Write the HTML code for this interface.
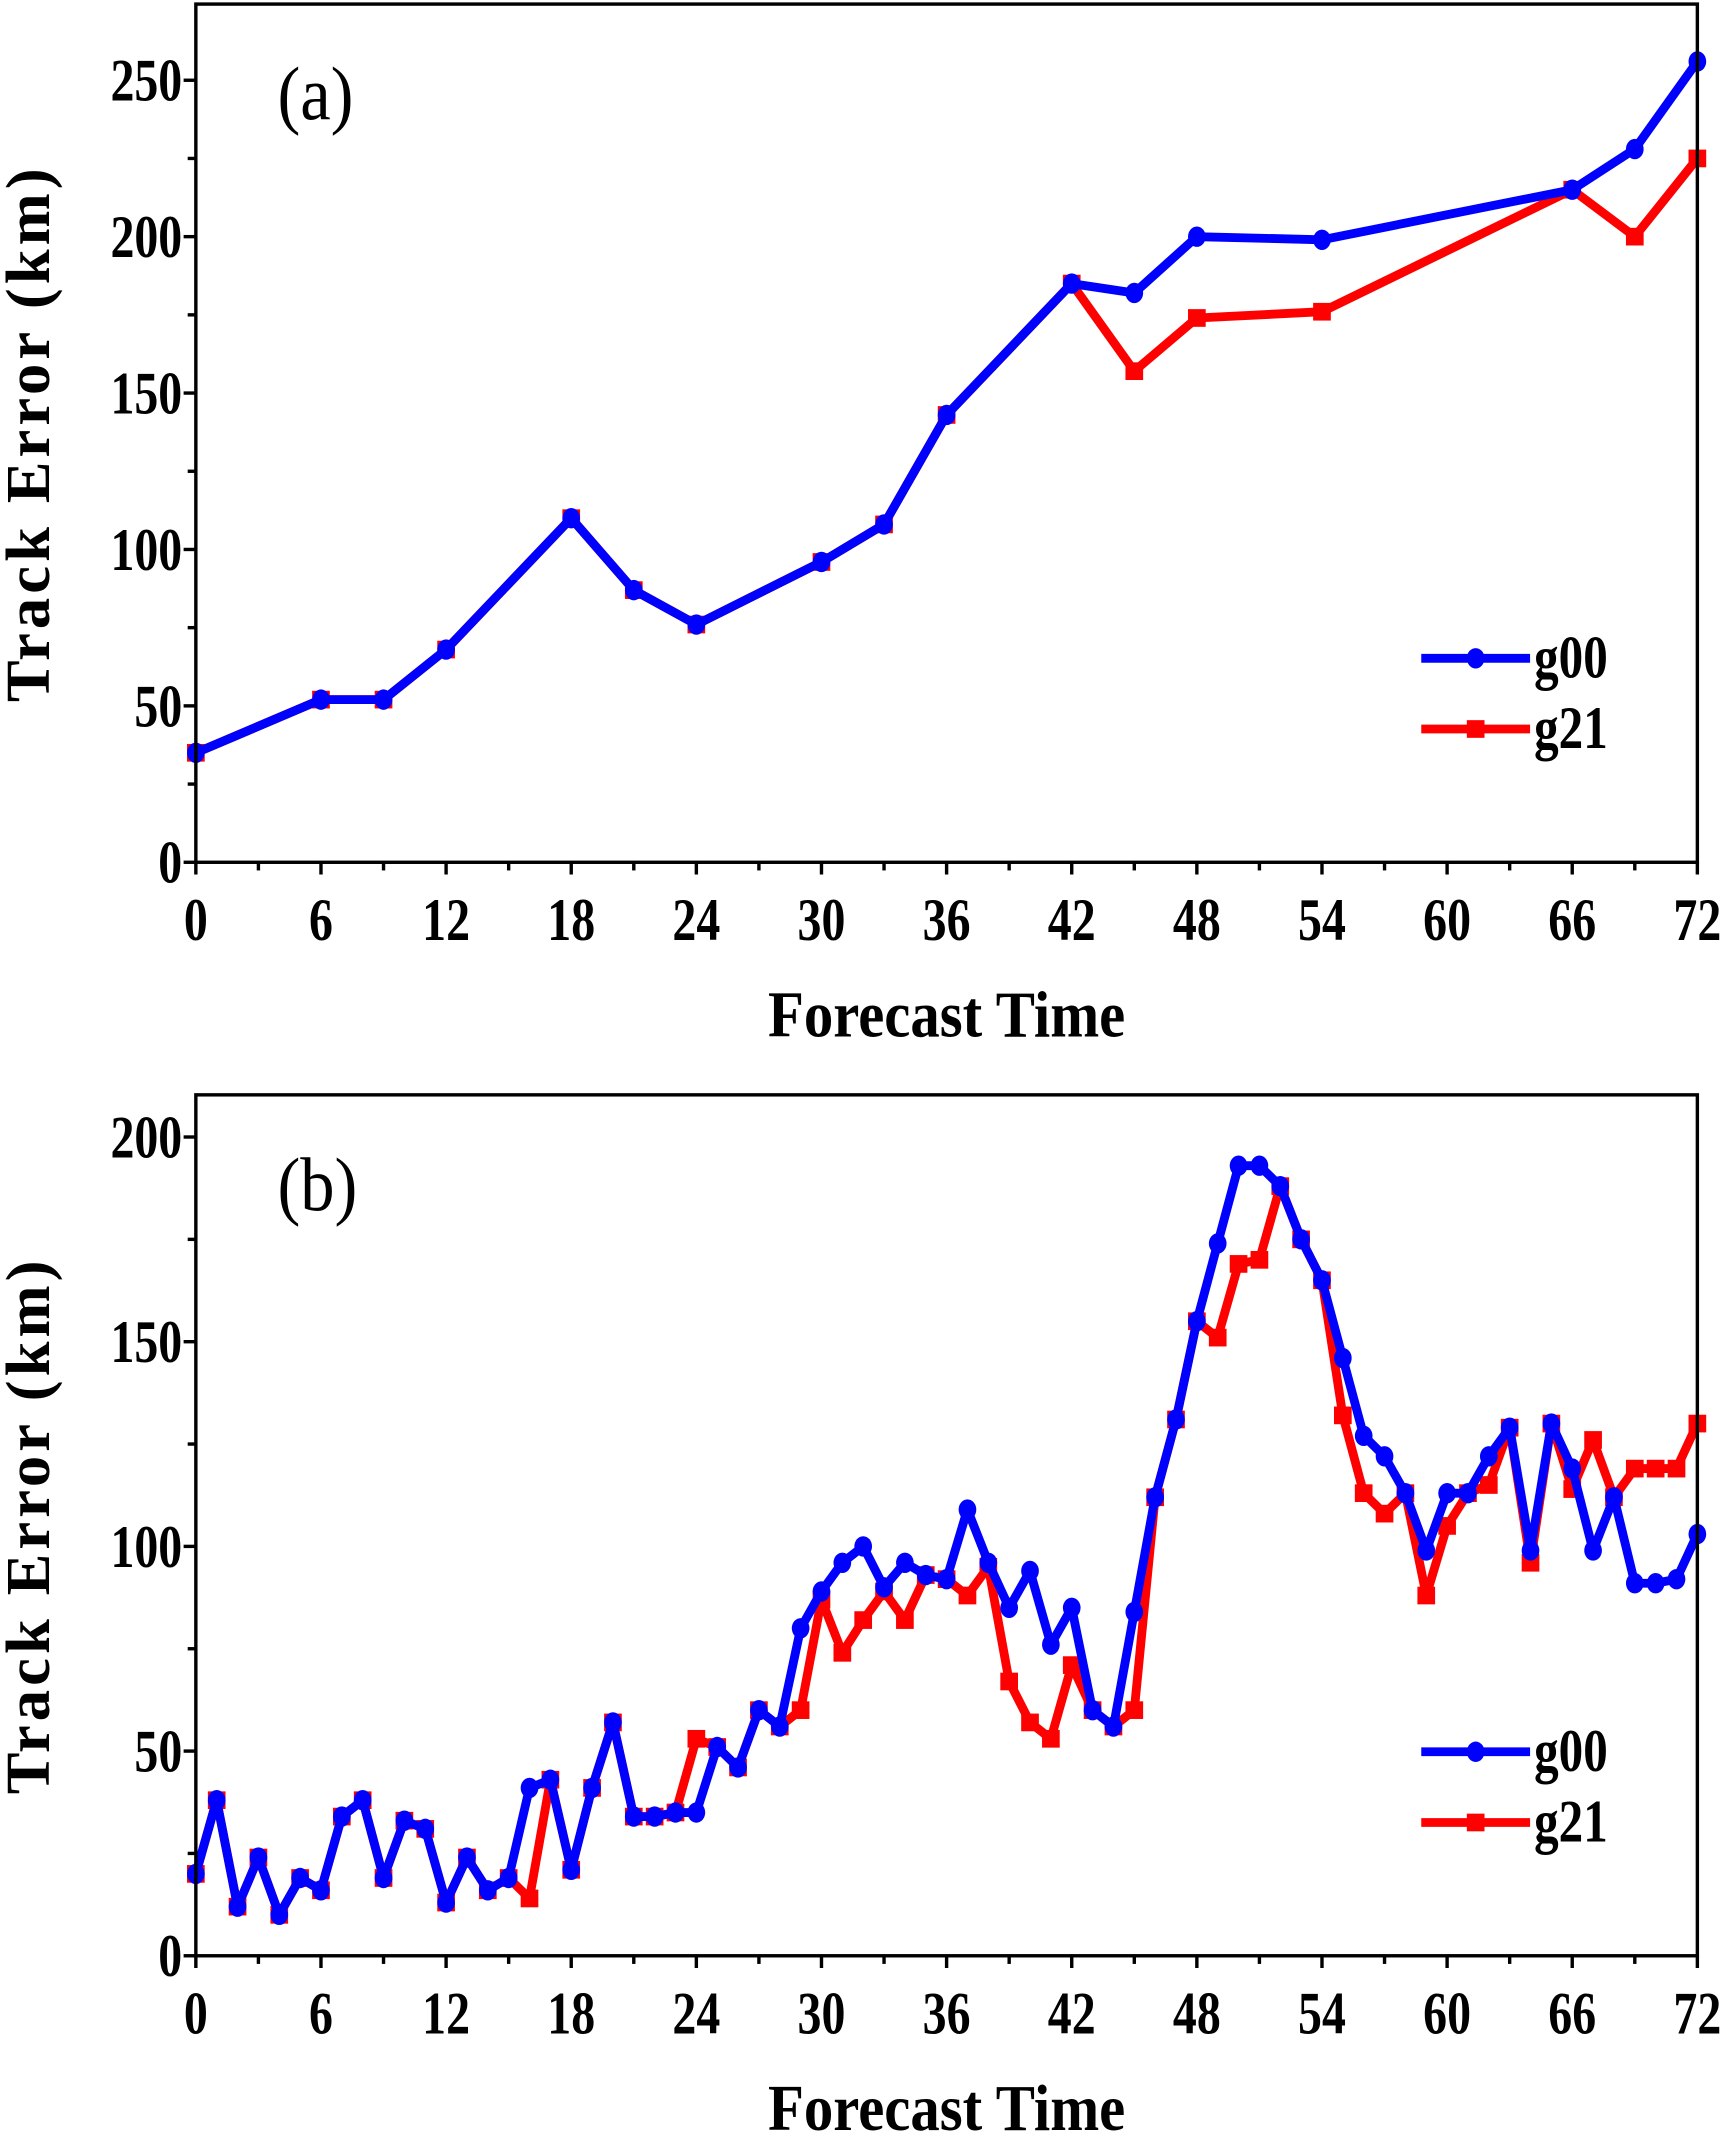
<!DOCTYPE html>
<html><head><meta charset="utf-8"><style>
html,body{margin:0;padding:0;background:#fff;}
svg{display:block;}
text{font-family:"Liberation Serif",serif;}
</style></head><body>
<svg id="s" width="1730" height="2135" viewBox="0 0 1272 1569.78" xmlns="http://www.w3.org/2000/svg"></svg>
<script>
const s=document.getElementById('s');let h='';
function X(t){return 144+t*1104/72;}
function panel(top,bot,ymax,ystep,ymin,label,g00,g21,x0,titleY){
  const Y=v=>bot-v*(bot-ymin)/ymax;
  const pts=d=>d.map(p=>X(p[0]).toFixed(1)+','+Y(p[1]).toFixed(1)).join(' ');
  h+=`<polyline points="${pts(g21)}" fill="none" stroke="#f00" stroke-width="6.5" stroke-linejoin="round"/>`;
  g21.forEach(p=>h+=`<rect x="${X(p[0])-6.5}" y="${Y(p[1])-6.5}" width="13" height="13" fill="#f00"/>`);
  h+=`<polyline points="${pts(g00)}" fill="none" stroke="#00f" stroke-width="6.5" stroke-linejoin="round"/>`;
  g00.forEach(p=>h+=`<ellipse cx="${X(p[0])}" cy="${Y(p[1])}" rx="6.5" ry="7.5" fill="#00f"/>`);
  h+=`<rect x="144" y="${top}" width="1104" height="${bot-top}" fill="none" stroke="#000" stroke-width="2.5"/>`;
  for(let t=0;t<=72;t+=3){const maj=t%6==0;h+=`<line x1="${X(t)}" y1="${bot}" x2="${X(t)}" y2="${bot+(maj?9:6)}" stroke="#000" stroke-width="2.5"/>`;
    if(maj)h+=`<text x="${X(t)}" y="${bot+57}" font-size="44" font-weight="bold" text-anchor="middle" transform="translate(${X(t)},0) scale(0.8,1) translate(${-X(t)},0)">${t}</text>`;}
  for(let v=0;v<=ymax;v+=ystep/2){const yy=Y(v);if(yy<top)break;const maj=v%ystep==0;
    h+=`<line x1="144" y1="${yy}" x2="${144-(maj?9:6)}" y2="${yy}" stroke="#000" stroke-width="2.5"/>`;
    if(maj)h+=`<text x="134" y="${yy+15}" font-size="44" font-weight="bold" text-anchor="end" transform="translate(134,0) scale(0.8,1) translate(-134,0)">${v}</text>`;}
  h+=`<text x="696" y="${titleY}" font-size="48" font-weight="bold" text-anchor="middle" transform="translate(696,0) scale(0.9,1) translate(-696,0)">Forecast Time</text>`;
  const cy=(top+bot)/2;
  h+=`<text x="0" y="0" font-size="46" font-weight="bold" text-anchor="middle" letter-spacing="3" transform="translate(36,${cy}) rotate(-90)">Track Error (km)</text>`;
  h+=`<text x="204" y="${x0}" font-size="56" transform="translate(204,0) scale(0.9,1) translate(-204,0)">${label}</text>`;
}
const a00=[[0,35],[6,52],[9,52],[12,68],[18,110],[21,87],[24,76],[30,96],[33,108],[36,143],[42,185],[45,182],[48,200],[54,199],[66,215],[69,228],[72,256]];
const a21=a00.slice(0,11).concat([[45,157],[48,174],[54,176],[66,215],[69,200],[72,225]]);
panel(3,634,250,50,59,'(a)',a00,a21,88,762);
const b0=[20,38,12,24,10,19,16,34,38,19,33,31,13,24,16,19,41,43,21,41,57,34,34,35,35,51,46,60,56,80,89,96,100,90,96,93,92,109,96,85,94,76,85,60,56,84,112,131,155,174,193,193,188,175,165,146,127,122,113,99,113,113,122,129,99,130,119,99,112,91,91,92,103];
const b1=b0.slice();
Object.entries({16:14,24:53,29:60,30:87,31:74,32:82,33:89,34:82,37:88,38:95,39:67,40:57,41:53,42:71,45:60,49:151,50:169,51:170,55:132,56:113,57:108,59:88,60:105,62:115,64:96,66:114,67:126,69:119,70:119,71:119,72:130}).forEach(([k,v])=>b1[k]=v);
panel(805,1438,200,50,836,'(b)',b0.map((v,i)=>[i,v]),b1.map((v,i)=>[i,v]),890,1566);
[[484,536],[1288,1340]].forEach(([y1,y2])=>{
  h+=`<line x1="1045" y1="${y2}" x2="1125" y2="${y2}" stroke="#f00" stroke-width="6.5"/><rect x="1078.5" y="${y2-6.5}" width="13" height="13" fill="#f00"/>`;
  h+=`<line x1="1045" y1="${y1}" x2="1125" y2="${y1}" stroke="#00f" stroke-width="6.5"/><ellipse cx="1085" cy="${y1}" rx="6.5" ry="7.5" fill="#00f"/>`;
  h+=`<text x="1128" y="${y1+14}" font-size="44" font-weight="bold" transform="translate(1128,0) scale(0.82,1) translate(-1128,0)">g00</text><text x="1128" y="${y2+14}" font-size="44" font-weight="bold" transform="translate(1128,0) scale(0.82,1) translate(-1128,0)">g21</text>`;
});
s.innerHTML=h;
</script>
</body></html>
